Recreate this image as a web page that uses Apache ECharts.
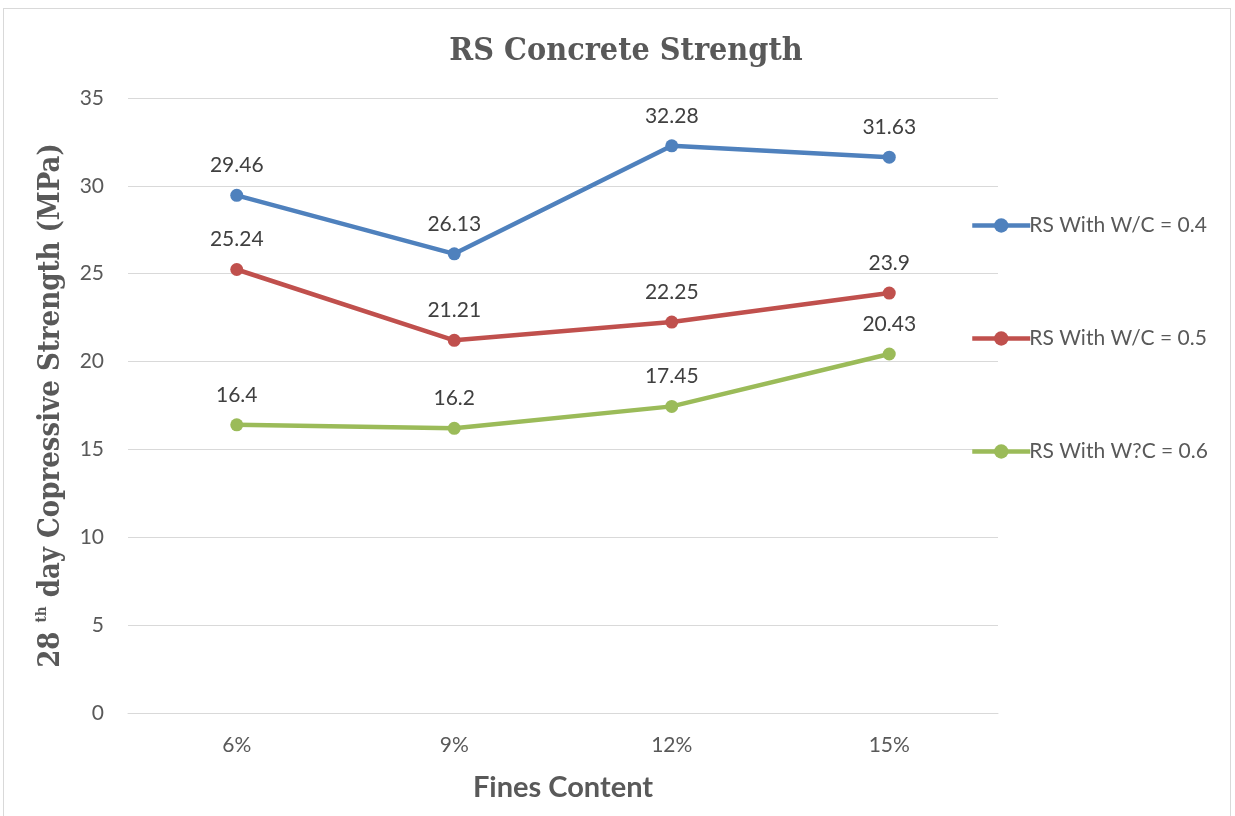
<!DOCTYPE html>
<html>
<head>
<meta charset="utf-8">
<script src="https://cdn.jsdelivr.net/npm/echarts@6/dist/echarts.min.js"></script>
<style>
  html, body { margin: 0; padding: 0; background: #fff; }
  #frame { position: absolute; left: 3px; top: 8px; width: 1228px; height: 820px; border: 1px solid #d9d9d9; box-sizing: border-box; }
  #chart { position: absolute; left: 0; top: 0; width: 1235px; height: 816px; }
</style>
</head>
<body>
<div id="frame"></div>
<div id="chart"></div>
<script>
// Fines content categories and 28-day strength per water/cement ratio
const categories = ['6%', '9%', '12%', '15%'];
const wc04 = [29.46, 26.13, 32.28, 31.63];
const wc05 = [25.24, 21.21, 22.25, 23.9];
const wc06 = [16.4, 16.2, 17.45, 20.43];
const seriesNames = ['RS With W/C = 0.4', 'RS With W/C = 0.5', 'RS With W?C = 0.6'];
const yTicks = { min: 0, max: 35, interval: 5 };

const colors = ['#4F81BD', '#C0504D', '#9BBB59'];
const sans = 'Lato, "Open Sans", sans-serif';
const serif = '"DejaVu Serif Condensed", "DejaVu Serif", "Liberation Serif", serif';

function lineSeries(name, data, color) {
  return {
    name: name,
    type: 'line',
    data: data,
    symbol: 'circle',
    symbolSize: 13,
    lineStyle: { width: 4.5, color: color },
    itemStyle: { color: color },
    label: {
      show: true,
      position: 'top',
      distance: 13,
      fontFamily: sans,
      fontSize: 21,
      color: '#404040'
    },
    z: 3
  };
}

const chart = echarts.init(document.getElementById('chart'));
chart.setOption({
  animation: false,
  title: {
    text: 'RS Concrete Strength',
    left: 621,
    textAlign: 'center',
    top: 31,
    textStyle: { fontFamily: serif, fontWeight: 'bold', fontSize: 32, color: '#595959' }
  },
  legend: {
    orient: 'vertical',
    left: 970,
    top: 215,
    padding: 0,
    itemGap: 92,
    itemWidth: 58,
    itemHeight: 18,
    data: seriesNames,
    lineStyle: { width: 4.5 },
    textStyle: { fontFamily: sans, fontSize: 21, color: '#595959', padding: [0, 0, 0, -6] }
  },
  grid: { left: 128, right: 237, top: 98, bottom: 103 },
  xAxis: {
    type: 'category',
    data: categories,
    boundaryGap: true,
    axisLine: { lineStyle: { color: '#d9d9d9', width: 1 } },
    axisTick: { show: false },
    axisLabel: { fontFamily: sans, fontSize: 21, color: '#595959', margin: 22 },
    name: 'Fines Content',
    nameLocation: 'middle',
    nameGap: 60,
    nameTextStyle: { fontFamily: sans, fontWeight: 'bold', fontSize: 29, color: '#595959' }
  },
  yAxis: {
    type: 'value',
    min: yTicks.min,
    max: yTicks.max,
    interval: yTicks.interval,
    axisLine: { show: false },
    axisTick: { show: false },
    splitLine: { lineStyle: { color: '#d9d9d9', width: 1 } },
    axisLabel: { fontFamily: sans, fontSize: 21, color: '#595959', margin: 24 },
    name: '{a|28 }{s|th}{a| day Copressive Strength (MPa)}',
    nameLocation: 'middle',
    nameGap: 60,
    nameRotate: 90,
    nameTextStyle: {
      rich: {
        a: { fontFamily: serif, fontWeight: 'bold', fontSize: 29, color: '#595959', lineHeight: 33 },
        s: { fontFamily: serif, fontWeight: 'bold', fontSize: 15, color: '#595959', verticalAlign: 'top', lineHeight: 33 }
      }
    }
  },
  series: [
    lineSeries(seriesNames[0], wc04, colors[0]),
    lineSeries(seriesNames[1], wc05, colors[1]),
    lineSeries(seriesNames[2], wc06, colors[2])
  ]
});
</script>
</body>
</html>
